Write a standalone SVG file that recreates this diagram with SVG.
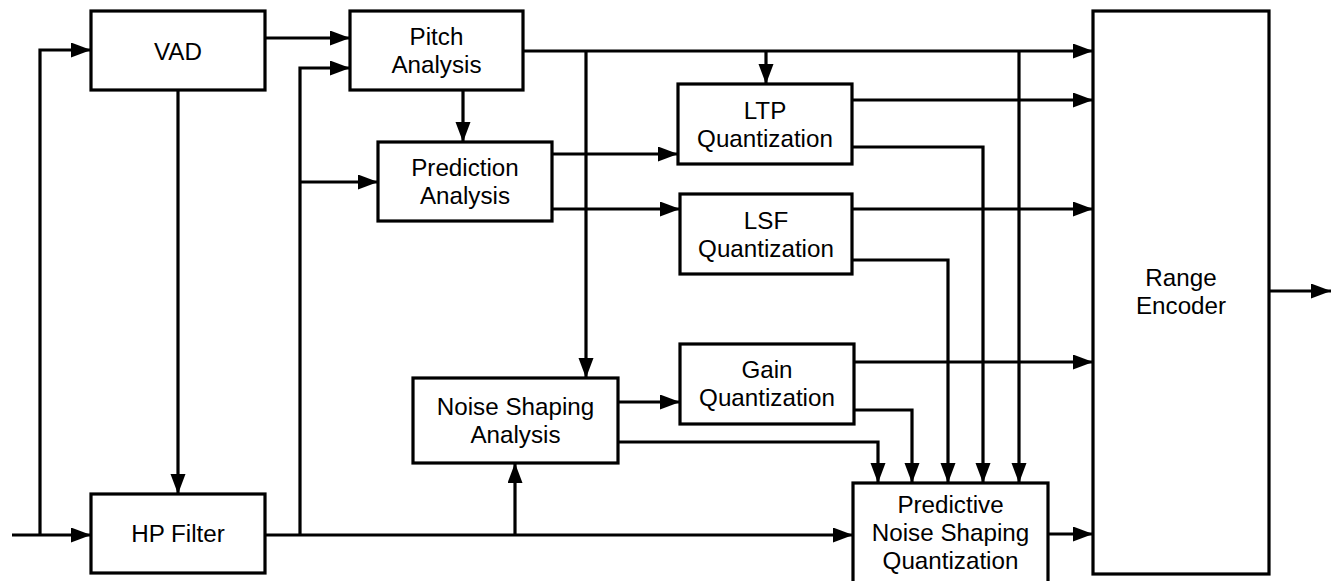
<svg xmlns="http://www.w3.org/2000/svg" width="1331" height="581" viewBox="0 0 1331 581">
<style>
.box{fill:#fff;stroke:#000;stroke-width:3.2}
.c{fill:none;stroke:#000;stroke-width:3.2}
text{font-family:"Liberation Sans",Arial,sans-serif;font-size:24.2px;fill:#000;text-anchor:middle}
</style>
<defs>
<marker id="ah" markerUnits="userSpaceOnUse" markerWidth="21" markerHeight="16" refX="20" refY="7.5" orient="auto">
<path d="M0,0 L20,7.5 L0,15 z" fill="#000"/>
</marker>
</defs>
<rect width="1331" height="581" fill="#fff"/>
<g id="connectors">
<path class="c" d="M12,535 H91" marker-end="url(#ah)"/>
<path class="c" d="M40,535 V50 H91" marker-end="url(#ah)"/>
<path class="c" d="M178,90 V494" marker-end="url(#ah)"/>
<path class="c" d="M265,38 H350" marker-end="url(#ah)"/>
<path class="c" d="M265,535 H853" marker-end="url(#ah)"/>
<path class="c" d="M300,535 V68 H350" marker-end="url(#ah)"/>
<path class="c" d="M300,182 H378" marker-end="url(#ah)"/>
<path class="c" d="M463,90 V142" marker-end="url(#ah)"/>
<path class="c" d="M523,51 H1093" marker-end="url(#ah)"/>
<path class="c" d="M766,51 V84" marker-end="url(#ah)"/>
<path class="c" d="M586,51 V378" marker-end="url(#ah)"/>
<path class="c" d="M1019,51 V483" marker-end="url(#ah)"/>
<path class="c" d="M552,154 H678" marker-end="url(#ah)"/>
<path class="c" d="M552,209 H680" marker-end="url(#ah)"/>
<path class="c" d="M852,100 H1093" marker-end="url(#ah)"/>
<path class="c" d="M852,147 H983 V483" marker-end="url(#ah)"/>
<path class="c" d="M852,209 H1093" marker-end="url(#ah)"/>
<path class="c" d="M852,260 H948 V483" marker-end="url(#ah)"/>
<path class="c" d="M854,362 H1093" marker-end="url(#ah)"/>
<path class="c" d="M854,410 H912 V483" marker-end="url(#ah)"/>
<path class="c" d="M618,402 H680" marker-end="url(#ah)"/>
<path class="c" d="M618,442 H878 V483" marker-end="url(#ah)"/>
<path class="c" d="M515,535 V463" marker-end="url(#ah)"/>
<path class="c" d="M1048,534 H1093" marker-end="url(#ah)"/>
<path class="c" d="M1269,291 H1331" marker-end="url(#ah)"/>
</g>
<g id="vad"><rect class="box" x="91" y="11" width="174" height="79"/><text x="178" y="60">VAD</text></g>
<g id="hp"><rect class="box" x="91" y="494" width="174" height="79"/><text x="178" y="542">HP Filter</text></g>
<g id="pitch"><rect class="box" x="350" y="11" width="173" height="79"/><text x="436.5" y="45">Pitch</text><text x="436.5" y="73">Analysis</text></g>
<g id="pred"><rect class="box" x="378" y="142" width="174" height="79"/><text x="465" y="176">Prediction</text><text x="465" y="204">Analysis</text></g>
<g id="ltp"><rect class="box" x="678" y="84" width="174" height="80"/><text x="765" y="119">LTP</text><text x="765" y="147">Quantization</text></g>
<g id="lsf"><rect class="box" x="680" y="194" width="172" height="80"/><text x="766" y="229">LSF</text><text x="766" y="257">Quantization</text></g>
<g id="gain"><rect class="box" x="680" y="344" width="174" height="80"/><text x="767" y="378">Gain</text><text x="767" y="406">Quantization</text></g>
<g id="nsa"><rect class="box" x="413" y="378" width="205" height="85"/><text x="515.5" y="415">Noise Shaping</text><text x="515.5" y="443">Analysis</text></g>
<g id="pnsq"><rect class="box" x="853" y="483" width="195" height="105"/><text x="950.5" y="513">Predictive</text><text x="950.5" y="541">Noise Shaping</text><text x="950.5" y="569">Quantization</text></g>
<g id="range"><rect class="box" x="1093" y="11" width="176" height="563"/><text x="1181" y="286">Range</text><text x="1181" y="314">Encoder</text></g>
</svg>
